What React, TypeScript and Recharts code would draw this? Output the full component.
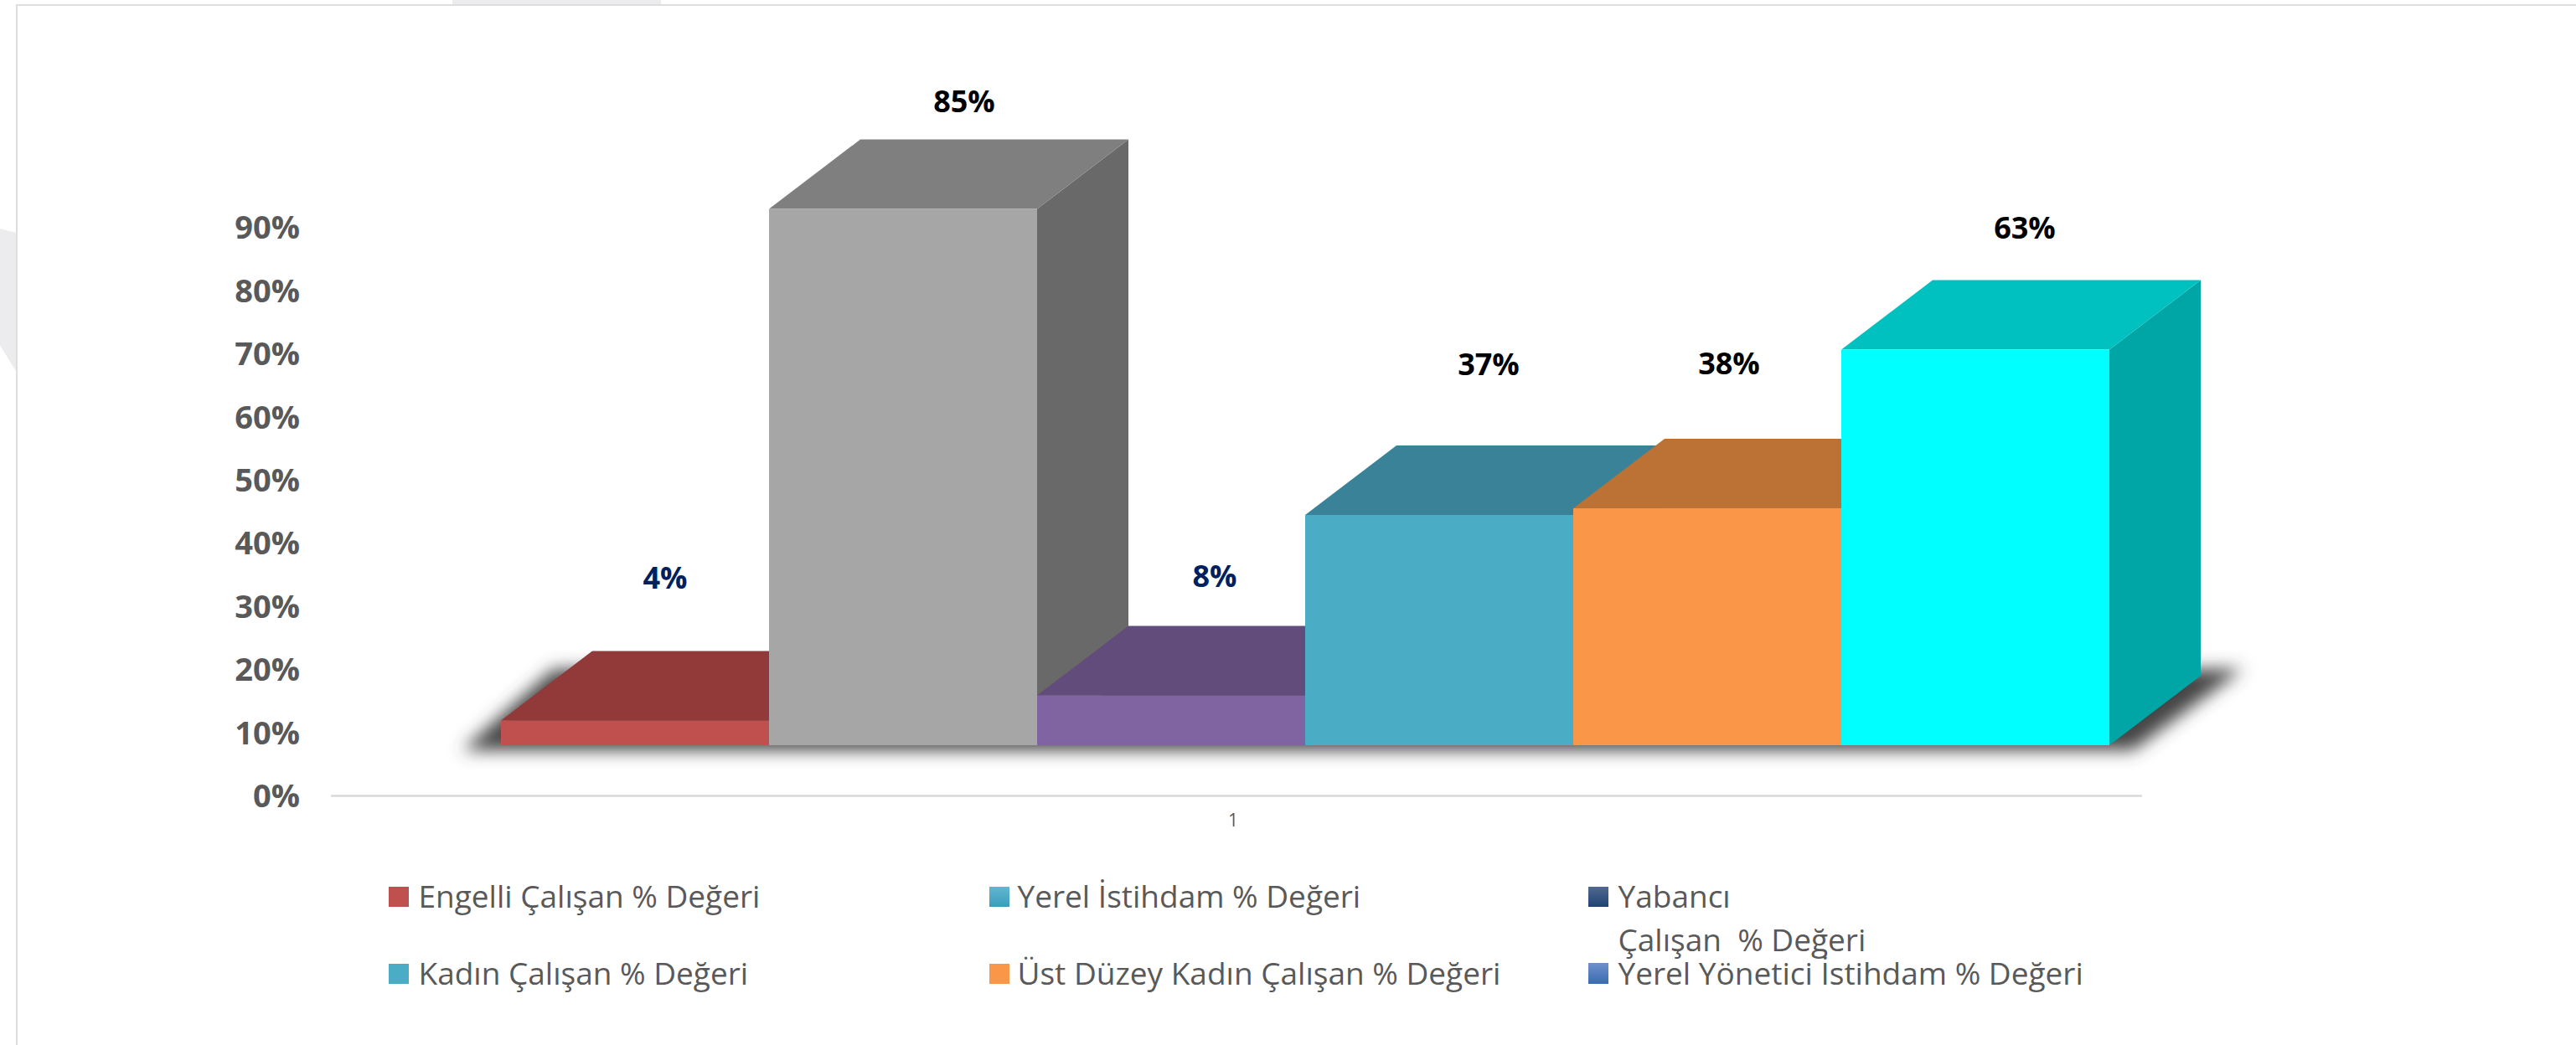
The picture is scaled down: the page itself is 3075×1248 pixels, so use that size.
import React from "react";
import { BarChart, Bar, XAxis, YAxis, Legend, LabelList } from "recharts";

const categories = ["1"];
const seriesKeys = ["engelli", "yerel", "yabanci", "kadin", "ustDuzey", "yonetici"];
const seriesNames = [
  "Engelli Çalışan % Değeri",
  "Yerel İstihdam % Değeri",
  "Yabancı\nÇalışan  % Değeri",
  "Kadın Çalışan % Değeri",
  "Üst Düzey Kadın Çalışan % Değeri",
  "Yerel Yönetici İstihdam % Değeri",
];
const seriesValues = [3.93, 85.4, 7.93, 36.67, 37.73, 63];
const yTicks = [0, 10, 20, 30, 40, 50, 60, 70, 80, 90];

const frontColors = ["#C0504D", "#A6A6A6", "#8064A2", "#4BACC6", "#F99648", "#00FFFF"];
const topColors = ["#923A39", "#7F7F7F", "#624C7B", "#398297", "#BC7135", "#00C0C0"];
const sideColors = ["#7A3030", "#696969", "#523F67", "#2F6C7E", "#9C5E2C", "#00A6A6"];
const labelColors = ["#002060", "#000000", "#002060", "#000000", "#000000", "#000000"];
const legendSwatches = [
  "#C0504D",
  "linear-gradient(#62B7D0,#3A9DBB)",
  "linear-gradient(#51698F,#1F4373)",
  "#4BACC6",
  "#F99648",
  "linear-gradient(#6F90CC,#3A6CAF)",
];
const labelOffsets = [
  [36, -171],
  [73, -129],
  [52, -143],
  [59, -180],
  [26, -174],
  [59, -146],
];

const DEPTH_X = 109;
const DEPTH_Y = 83;
const FONT = "'Open Sans', sans-serif";

const chartData = categories.map((name) => {
  const row: Record<string, any> = { name };
  seriesKeys.forEach((k, i) => (row[k] = seriesValues[i]));
  return row;
});

const pts = (a: number[][]) => a.map((p) => p.join(",")).join(" ");

function makeShape(index: number) {
  return function Bar3D(props: any) {
    const { x, y, width, height } = props;
    const r = x + width;
    const b = y + height;
    const total = width * seriesKeys.length;
    return (
      <g>
        {index === 0 && (
          <polygon
            filter="url(#floorShadow)"
            fill="#454545"
            points={pts([
              [x - 46, b + 6],
              [x + total + 28, b + 6],
              [x + total + DEPTH_X + 50, b - DEPTH_Y - 8],
              [x + DEPTH_X - 46, b - DEPTH_Y - 8],
            ])}
          />
        )}
        <polygon fill={sideColors[index]} points={pts([[r, y], [r + DEPTH_X, y - DEPTH_Y], [r + DEPTH_X, b - DEPTH_Y], [r, b]])} />
        <polygon fill={topColors[index]} points={pts([[x, y], [x + DEPTH_X, y - DEPTH_Y], [r + DEPTH_X, y - DEPTH_Y], [r, y]])} />
        <rect x={x} y={y} width={width} height={height} fill={frontColors[index]} />
      </g>
    );
  };
}

function makeLabel(index: number) {
  return function DataLabel(props: any) {
    const { x, y, width, value } = props;
    return (
      <text
        x={x + width / 2 + labelOffsets[index][0]}
        y={y + labelOffsets[index][1]}
        textAnchor="middle"
        dominantBaseline="central"
        fontFamily={FONT}
        fontWeight={700}
        fontSize={36}
        fill={labelColors[index]}
      >
        {Math.round(Number(value))}%
      </text>
    );
  };
}

function LegendGrid({ payload }: any) {
  const items = payload && payload.length ? payload : seriesNames.map((value) => ({ value }));
  return (
    <div style={{ position: "relative", height: 0, width: 2200 }}>
      {seriesNames.map((name, i) => {
        const col = i % 3;
        const row = Math.floor(i / 3);
        const entry = items.find((it: any) => it.value === name);
        return (
          <div
            key={name}
            style={{ position: "absolute", left: [0, 717, 1432][col], top: row * 92, fontFamily: FONT, fontSize: 37, lineHeight: "52px", color: "#595959" }}
          >
            <span style={{ position: "absolute", left: 0, top: row === 1 && col === 2 ? 14 : 15, width: 24, height: row === 1 && col === 2 ? 25 : 24, background: legendSwatches[i] }} />
            <div style={{ marginLeft: col === 1 ? 34 : 36, width: 700, whiteSpace: "pre-wrap" }}>{entry ? entry.value : name}</div>
          </div>
        );
      })}
    </div>
  );
}

export default function App() {
  return (
    <div style={{ position: "absolute", left: 0, top: 0, width: 3075, height: 1248, background: "#fff", overflow: "hidden" }}>
      <div style={{ position: "absolute", left: 540, top: 0, width: 249, height: 6, background: "#ECECEE" }} />
      <div style={{ position: "absolute", left: 0, top: 273, width: 19, height: 170, background: "#ECECEE", clipPath: "polygon(0 0,100% 3%,100% 100%,0 82%)" }} />
      <div style={{ position: "absolute", left: 19, top: 5, width: 3056, height: 2, background: "#DEDEDE" }} />
      <div style={{ position: "absolute", left: 19, top: 5, width: 2, height: 1243, background: "#DEDEDE" }} />
      <BarChart
        width={3075}
        height={1248}
        data={chartData}
        margin={{ top: 196.5, right: 518, bottom: 237.5, left: 295 }}
        barSize={320}
        barGap={0}
        style={{ position: "absolute", left: 0, top: 0 }}
      >
        <defs>
          <filter id="floorShadow" x="-5%" y="-30%" width="110%" height="160%">
            <feGaussianBlur stdDeviation="10" />
          </filter>
        </defs>
        <XAxis
          dataKey="name"
          xAxisId="visible"
          height={60}
          tickLine={false}
          axisLine={{ stroke: "#D9D9D9", strokeWidth: 2.5 }}
          tick={{ fontFamily: FONT, fontSize: 21, fill: "#595959", dx: -4, dy: 14 }}
        />
        <XAxis dataKey="name" xAxisId="bars" hide height={0} padding={{ left: 164, right: 0 }} />
        <YAxis
          yAxisId="visible"
          dataKey="engelli"
          width={100}
          domain={[0, 100]}
          ticks={yTicks}
          interval={0}
          axisLine={false}
          tickLine={false}
          tickMargin={31}
          tickFormatter={(v: number) => `${v}%`}
          tick={{ fontFamily: FONT, fontSize: 38, fontWeight: 700, fill: "#595959" }}
        />
        <YAxis yAxisId="bars" hide width={0} domain={[-8.07, 92.47]} />
        {seriesKeys.map((key, i) => (
          <Bar
            key={key}
            dataKey={key}
            name={seriesNames[i]}
            xAxisId="bars"
            yAxisId="bars"
            fill={frontColors[i]}
            isAnimationActive={false}
            shape={makeShape(i)}
          >
            <LabelList dataKey={key} content={makeLabel(i)} />
          </Bar>
        ))}
        <Legend content={<LegendGrid />} wrapperStyle={{ left: 463.5, top: 1044, width: 2200, height: 0 }} />
      </BarChart>
    </div>
  );
}
